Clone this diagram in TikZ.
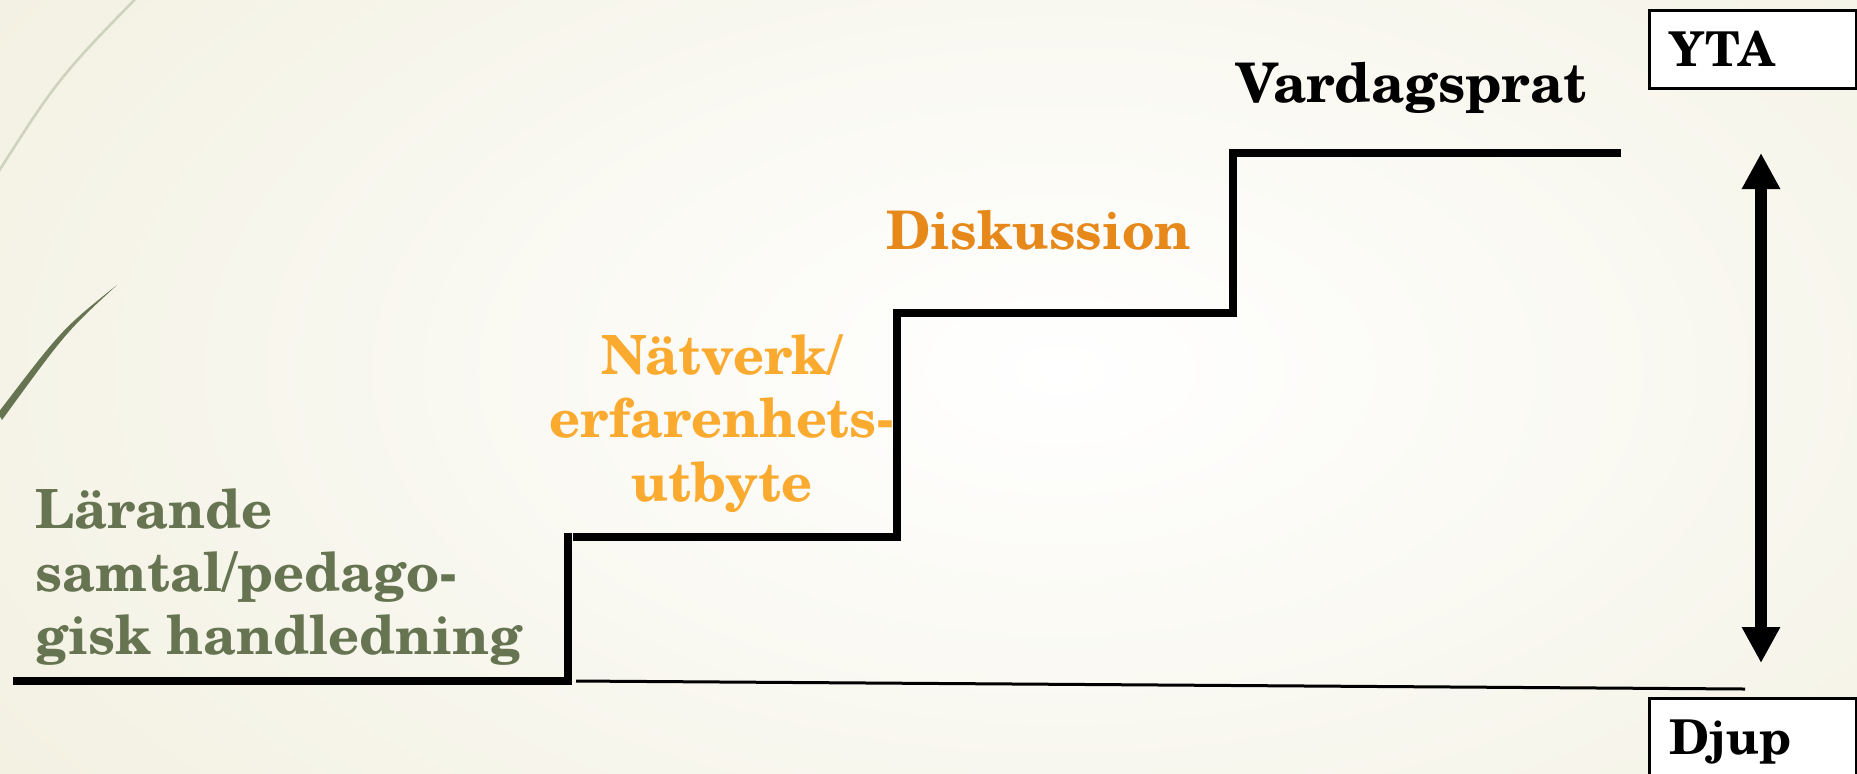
\documentclass[tikz,border=0pt]{standalone}
\usepackage{fontspec}
\setmainfont{texgyreschola}[Extension=.otf, UprightFont=*-regular, BoldFont=*-bold, ItalicFont=*-italic, BoldItalicFont=*-bolditalic]
\usetikzlibrary{arrows.meta}
\definecolor{cream}{RGB}{238,235,214}
\definecolor{lgreen}{RGB}{102,116,82}
\definecolor{lorange}{RGB}{250,170,46}
\definecolor{dorange}{RGB}{230,136,26}
\definecolor{curvegrey}{RGB}{206,210,190}
\tikzset{
  lbl/.style={inner sep=0pt, font=\bfseries\fontsize{27}{31.5}\selectfont},
  stepline/.style={line width=4pt, line join=miter, line cap=butt},
  thinline/.style={line width=1.5pt},
  labelbox/.style={draw, fill=white, line width=1.5pt, anchor=north west,
    minimum width=103.5pt, minimum height=39pt, text width=83.5pt,
    inner xsep=10pt, inner ysep=0pt, align=left, text height=17.3pt, text depth=0pt,
    font=\bfseries\fontsize{24}{28}\selectfont},
  bigarrow/.style={line width=6pt, {Triangle[width=18pt,length=18pt]}-{Triangle[width=18pt,length=18pt]}}
}
\begin{document}
\begin{tikzpicture}[x=0.5pt,y=-0.5pt]
\useasboundingbox (0,0) rectangle (1857,773);
% background
\begin{scope}
  \clip (0,0) rectangle (1857,773);
  \shade[inner color=white, outer color=cream] (-740,-630) rectangle (2860,1370);
  % decorative curves
  \draw[curvegrey, line width=1.3pt] (150,-16) .. controls (58,78) .. (-8,182);
  \fill[lgreen] (117,285) .. controls (62,329) .. (-2,413) -- (2,420) .. controls (66,332) .. (117,285) -- cycle;
\end{scope}
% step coordinates
\coordinate (p0) at (13,681);
\coordinate (p1) at (568,681);
\coordinate (p2) at (568,533);
\coordinate (q0) at (573,537);
\coordinate (q1) at (897,537);
\coordinate (q2) at (897,313);
\coordinate (q3) at (1233,313);
\coordinate (q4) at (1233,153);
\coordinate (q5) at (1621,153);
\coordinate (t0) at (576,681);
\coordinate (t1) at (1745,689);
\coordinate (atop) at (1761,153);
\coordinate (abot) at (1761,663);
\draw[stepline] (p0) -- (p1) -- (p2);
\draw[stepline] (q0) -- (q1) -- (q2) -- (q3) -- (q4) -- (q5);
\draw[thinline] (t0) -- (t1);
\draw[bigarrow] (atop) -- (abot);
% labels
\node[lbl, anchor=base west, font=\bfseries\fontsize{27.3}{31.5}\selectfont] (vard) at (1236,102) {Vardagsprat};
\node[lbl, anchor=base west, text=dorange, font=\bfseries\fontsize{26.6}{31.5}\selectfont] (disk) at (886,249) {Diskussion};
\node[lbl, anchor=base, text=lorange, align=center, font=\bfseries\fontsize{27}{31.6}\selectfont] (natv) at (722,501) {Nätverk/\\erfarenhets-\\utbyte};
\node[lbl, anchor=base west, text=lgreen, align=left, font=\bfseries\fontsize{27}{31.5}\selectfont] (lar) at (35,654) {Lärande\\samtal/pedago-\\gisk handledning};
\node[labelbox] (yta) at (1648,9) {YTA};
\node[labelbox] (djup) at (1648,697) {Djup};
\end{tikzpicture}
\end{document}
